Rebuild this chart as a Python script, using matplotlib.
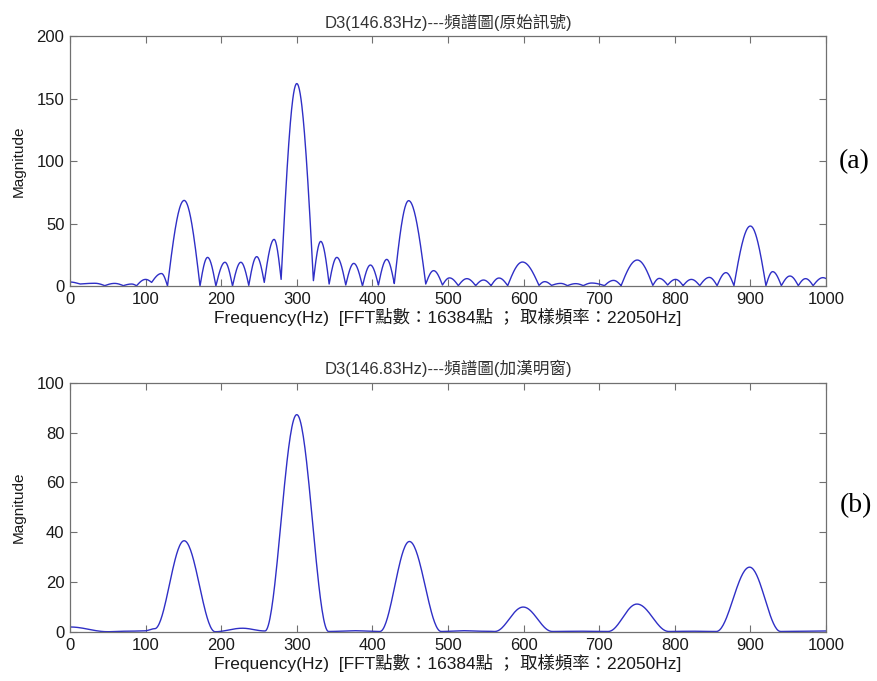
import numpy as np
import matplotlib
matplotlib.use('Agg')
import matplotlib.pyplot as plt

# ---- 原始訊號 (rectangular window): lobe minima and lobe maxima ----
raw_null_hz = [0, 13, 46, 70.5, 88, 108, 129, 172, 193, 215, 236.5, 257, 279.3,
               322, 342.8, 364.8, 386.9, 408, 429, 470.6, 492.7, 513.7, 536.6,
               557, 579, 620.4, 637, 658, 679, 707, 729, 771, 790.6, 811, 833,
               856, 878.3, 920.6, 941, 963.4, 983, 1000]
raw_null_mag = [3.2, 1.6, 0.3, 0.3, 0.2, 2.9, 0, 0, 0, 0, 0.5, 2.9, 5.3,
                4.3, 1.6, 0.8, 0, 0.8, 2.0, 1.6, 0.8, 0.3, 0.3,
                0.3, 0.3, 0.5, 0.5, 0.3, 0.3, 0.3, 0.3, 0.5, 0.8, 0.3, 0.3,
                0.3, 0.3, 0.3, 0.3, 0.3, 0.3, 6.0]
raw_peak_hz = [0, 33, 59, 81.6, 100, 121, 151, 182, 205, 226, 247, 270,
               300, 331.7, 353, 375.4, 397.4, 419, 448, 481, 502, 525, 547,
               567.5, 598.5, 628, 649, 669, 690, 719, 750.4, 779.5, 801, 822,
               845.7, 867.7, 900, 929.5, 952.4, 973, 996]
raw_peak_mag = [3.2, 2.2, 2.1, 1.6, 5.3, 10.0, 68.5, 22.9, 19.0, 19.0, 23.5, 37.3,
                162.0, 35.7, 22.9, 18.1, 16.8, 21.3, 68.3, 12.3, 6.5, 5.9, 4.8,
                6.4, 19.2, 3.5, 2.1, 1.9, 2.4, 4.5, 20.8, 6.1, 5.3, 5.3,
                6.9, 10.7, 48.0, 11.5, 8.0, 5.9, 6.7]

# ---- 加漢明窗 (Hamming window) ----
ham_null_hz = [0, 50, 98, 112, 192, 258, 342, 410, 491, 545, 562, 638, 712,
               792, 855, 940, 1000]
ham_null_mag = [2.0, 0.1, 0.4, 1.3, 0.1, 0.4, 0.2, 0.2, 0.2, 0.3, 0.2, 0.2,
                0.2, 0.2, 0.2, 0.2, 0.4]
ham_peak_hz = [0, 72, 112, 151, 228, 300, 375, 449, 520, 553, 599.5, 675,
               750, 823, 899, 970]
ham_peak_mag = [2.0, 0.3, 1.3, 36.6, 1.5, 87.2, 0.5, 36.3, 0.5, 0.3, 10.0,
                0.3, 11.2, 0.3, 26.0, 0.3]

x_ticks = list(range(0, 1001, 100))
raw_y_ticks = [0, 50, 100, 150, 200]
ham_y_ticks = [0, 20, 40, 60, 80, 100]

title_raw = 'D3(146.83Hz)---頻譜圖(原始訊號)'
title_ham = 'D3(146.83Hz)---頻譜圖(加漢明窗)'
x_label = 'Frequency(Hz)  [FFT點數：16384點 ； 取樣頻率：22050Hz]'

FONT = ['Liberation Sans', 'Noto Sans CJK TC']
LINE_COLOR = '#2f2fc6'
EDGE = '#707070'


def sinc_rise(s):
    return np.sin(np.pi / 2 * s)


def smooth_rise(s):
    return 0.5 - 0.5 * np.cos(np.pi * s)


def lobe_trace(null_hz, null_mag, peak_hz, peak_mag, rise):
    """join the lobes: null -> peak -> next null"""
    xs, ys = [], []
    s = np.linspace(0, 1, 40)
    for i in range(len(peak_hz)):
        x0, x1 = null_hz[i], null_hz[i + 1]
        y0, y1 = null_mag[i], null_mag[i + 1]
        xp, yp = peak_hz[i], peak_mag[i]
        if xp > x0:
            xs.append(x0 + (xp - x0) * s)
            ys.append(y0 + (yp - y0) * rise(s))
        if x1 > xp:
            xs.append(xp + (x1 - xp) * s)
            ys.append(y1 + (yp - y1) * rise(1 - s))
    return np.concatenate(xs), np.concatenate(ys)


def style_axes(ax, yticks, title):
    ax.set_xlim(0, 1000)
    ax.set_ylim(yticks[0], yticks[-1])
    ax.set_xticks(x_ticks)
    ax.set_yticks(yticks)
    ax.tick_params(direction='in', length=5, width=0.8, color=EDGE,
                   top=True, right=True, labelsize=12, pad=4)
    for lab in ax.get_xticklabels() + ax.get_yticklabels():
        lab.set_family(FONT)
        lab.set_color('#1a1a1a')
    for sp in ax.spines.values():
        sp.set_color(EDGE)
        sp.set_linewidth(0.9)
    ax.set_title(title, family=FONT, fontsize=12, color='#333333', pad=6)
    ax.set_xlabel(x_label, family=FONT, fontsize=12.5, color='#1a1a1a', labelpad=1)
    ax.set_ylabel('Magnitude', family=FONT, fontsize=11, color='#1a1a1a', labelpad=8)


fig = plt.figure(figsize=(8.77, 6.81), dpi=100)
ax1 = fig.add_axes([0.0798, 0.580, 0.862, 0.367])
ax2 = fig.add_axes([0.0798, 0.072, 0.862, 0.366])

x, y = lobe_trace(raw_null_hz, raw_null_mag, raw_peak_hz, raw_peak_mag, sinc_rise)
ax1.plot(x, y, color=LINE_COLOR, lw=1.0)
style_axes(ax1, raw_y_ticks, title_raw)

x, y = lobe_trace(ham_null_hz, ham_null_mag, ham_peak_hz, ham_peak_mag, smooth_rise)
ax2.plot(x, y, color=LINE_COLOR, lw=1.0)
style_axes(ax2, ham_y_ticks, title_ham)

fig.text(0.974, 0.762, '(a)', family='Liberation Serif', fontsize=20,
         ha='center', va='center')
fig.text(0.976, 0.258, '(b)', family='Liberation Serif', fontsize=20,
         ha='center', va='center')

fig.savefig('out.png', dpi=100)
